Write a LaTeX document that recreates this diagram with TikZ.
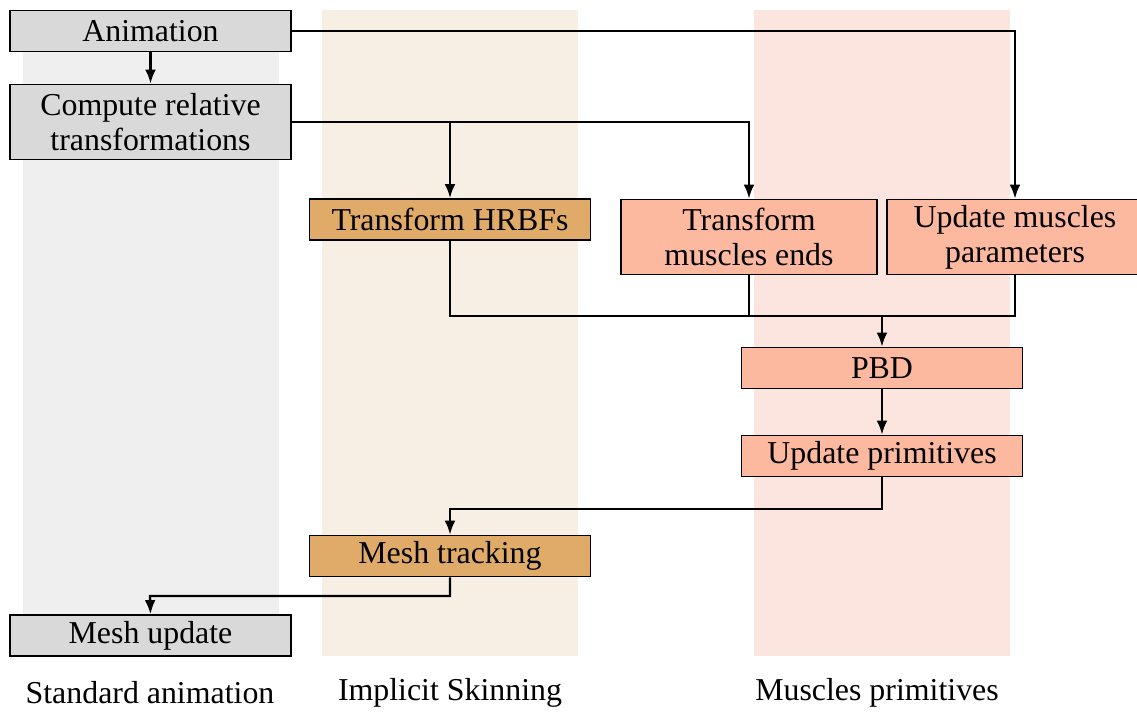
\documentclass[tikz,border=0pt]{standalone}
\usepackage{fontspec}
\setmainfont{Liberation Serif}
\usetikzlibrary{arrows.meta}

\definecolor{bandgray}{HTML}{EFEFEF}
\definecolor{bandbeige}{HTML}{F7EFE4}
\definecolor{bandpink}{HTML}{FDE5DF}
\definecolor{boxgray}{HTML}{D9D9D9}
\definecolor{boxorange}{HTML}{E0AA68}
\definecolor{boxsalmon}{HTML}{FDB8A0}

\tikzset{
  stage/.style={draw, line width=0.7pt, inner sep=0pt, align=center,
    font=\fontsize{13.6}{15}\selectfont, minimum width=4.215cm, minimum height=0.615cm},
  stdstage/.style={stage, fill=boxgray},
  skinstage/.style={stage, fill=boxorange},
  musclestage/.style={stage, fill=boxsalmon},
  link/.style={line width=1pt},
  flow/.style={link, -{Latex[length=6pt,width=4.6pt]}},
  column/.style={font=\fontsize{13.6}{15}\selectfont}
}

\begin{document}
\begin{tikzpicture}[x=0.015cm, y=-0.015cm]
\useasboundingbox (0,0) rectangle (1137,713);
% columns
\fill[bandgray]  (23,10) rectangle (279,656);
\fill[bandbeige] (322,10) rectangle (578,656);
\fill[bandpink]  (754,10) rectangle (1010,656);

% stages
\node[stdstage] (anim) at (150.5,31) {Animation};
\node[stdstage, minimum height=1.125cm] (comp) at (150.5,122) {Compute relative\\transformations};
\node[skinstage] (hrbf) at (450,219.5) {Transform HRBFs};
\node[musclestage, minimum width=3.84cm, minimum height=1.125cm] (ends) at (749,237) {Transform\\muscles ends};
\node[musclestage, minimum width=3.84cm, minimum height=1.125cm] (param) at (1015,237) {Update muscles\\parameters};
\node[musclestage] (pbd) at (882,368) {PBD};
\node[musclestage] (prim) at (882,456) {Update primitives};
\node[skinstage] (track) at (450,556) {Mesh tracking};
\node[stdstage] (update) at (150.5,635.5) {Mesh update};

% connectors
\coordinate (join) at (882,316);
\coordinate (turnA) at (450,509);
\coordinate (turnB) at (150,596);
\draw[flow] (anim) -- (comp);
\draw[flow] (anim.east) -| (param.north);
\draw[flow] (comp.east) -| (hrbf.north);
\draw[flow] (comp.east) -| (ends.north);
\draw[link] (hrbf.south) |- (join);
\draw[link] (ends.south) -- (ends.south |- join);
\draw[link] (param.south) |- (join);
\draw[flow] (join) -- (pbd);
\draw[flow] (pbd) -- (prim);
\draw[flow] (prim.south) |- (turnA) -- (track.north);
\draw[flow] (track.south) |- (turnB) -- (update.north);

% column titles
\node[column] (std) at (150,693) {Standard animation};
\node[column] (skin) at (450,693) {Implicit Skinning};
\node[column] (musc) at (877,693) {Muscles primitives};
\end{tikzpicture}
\end{document}
